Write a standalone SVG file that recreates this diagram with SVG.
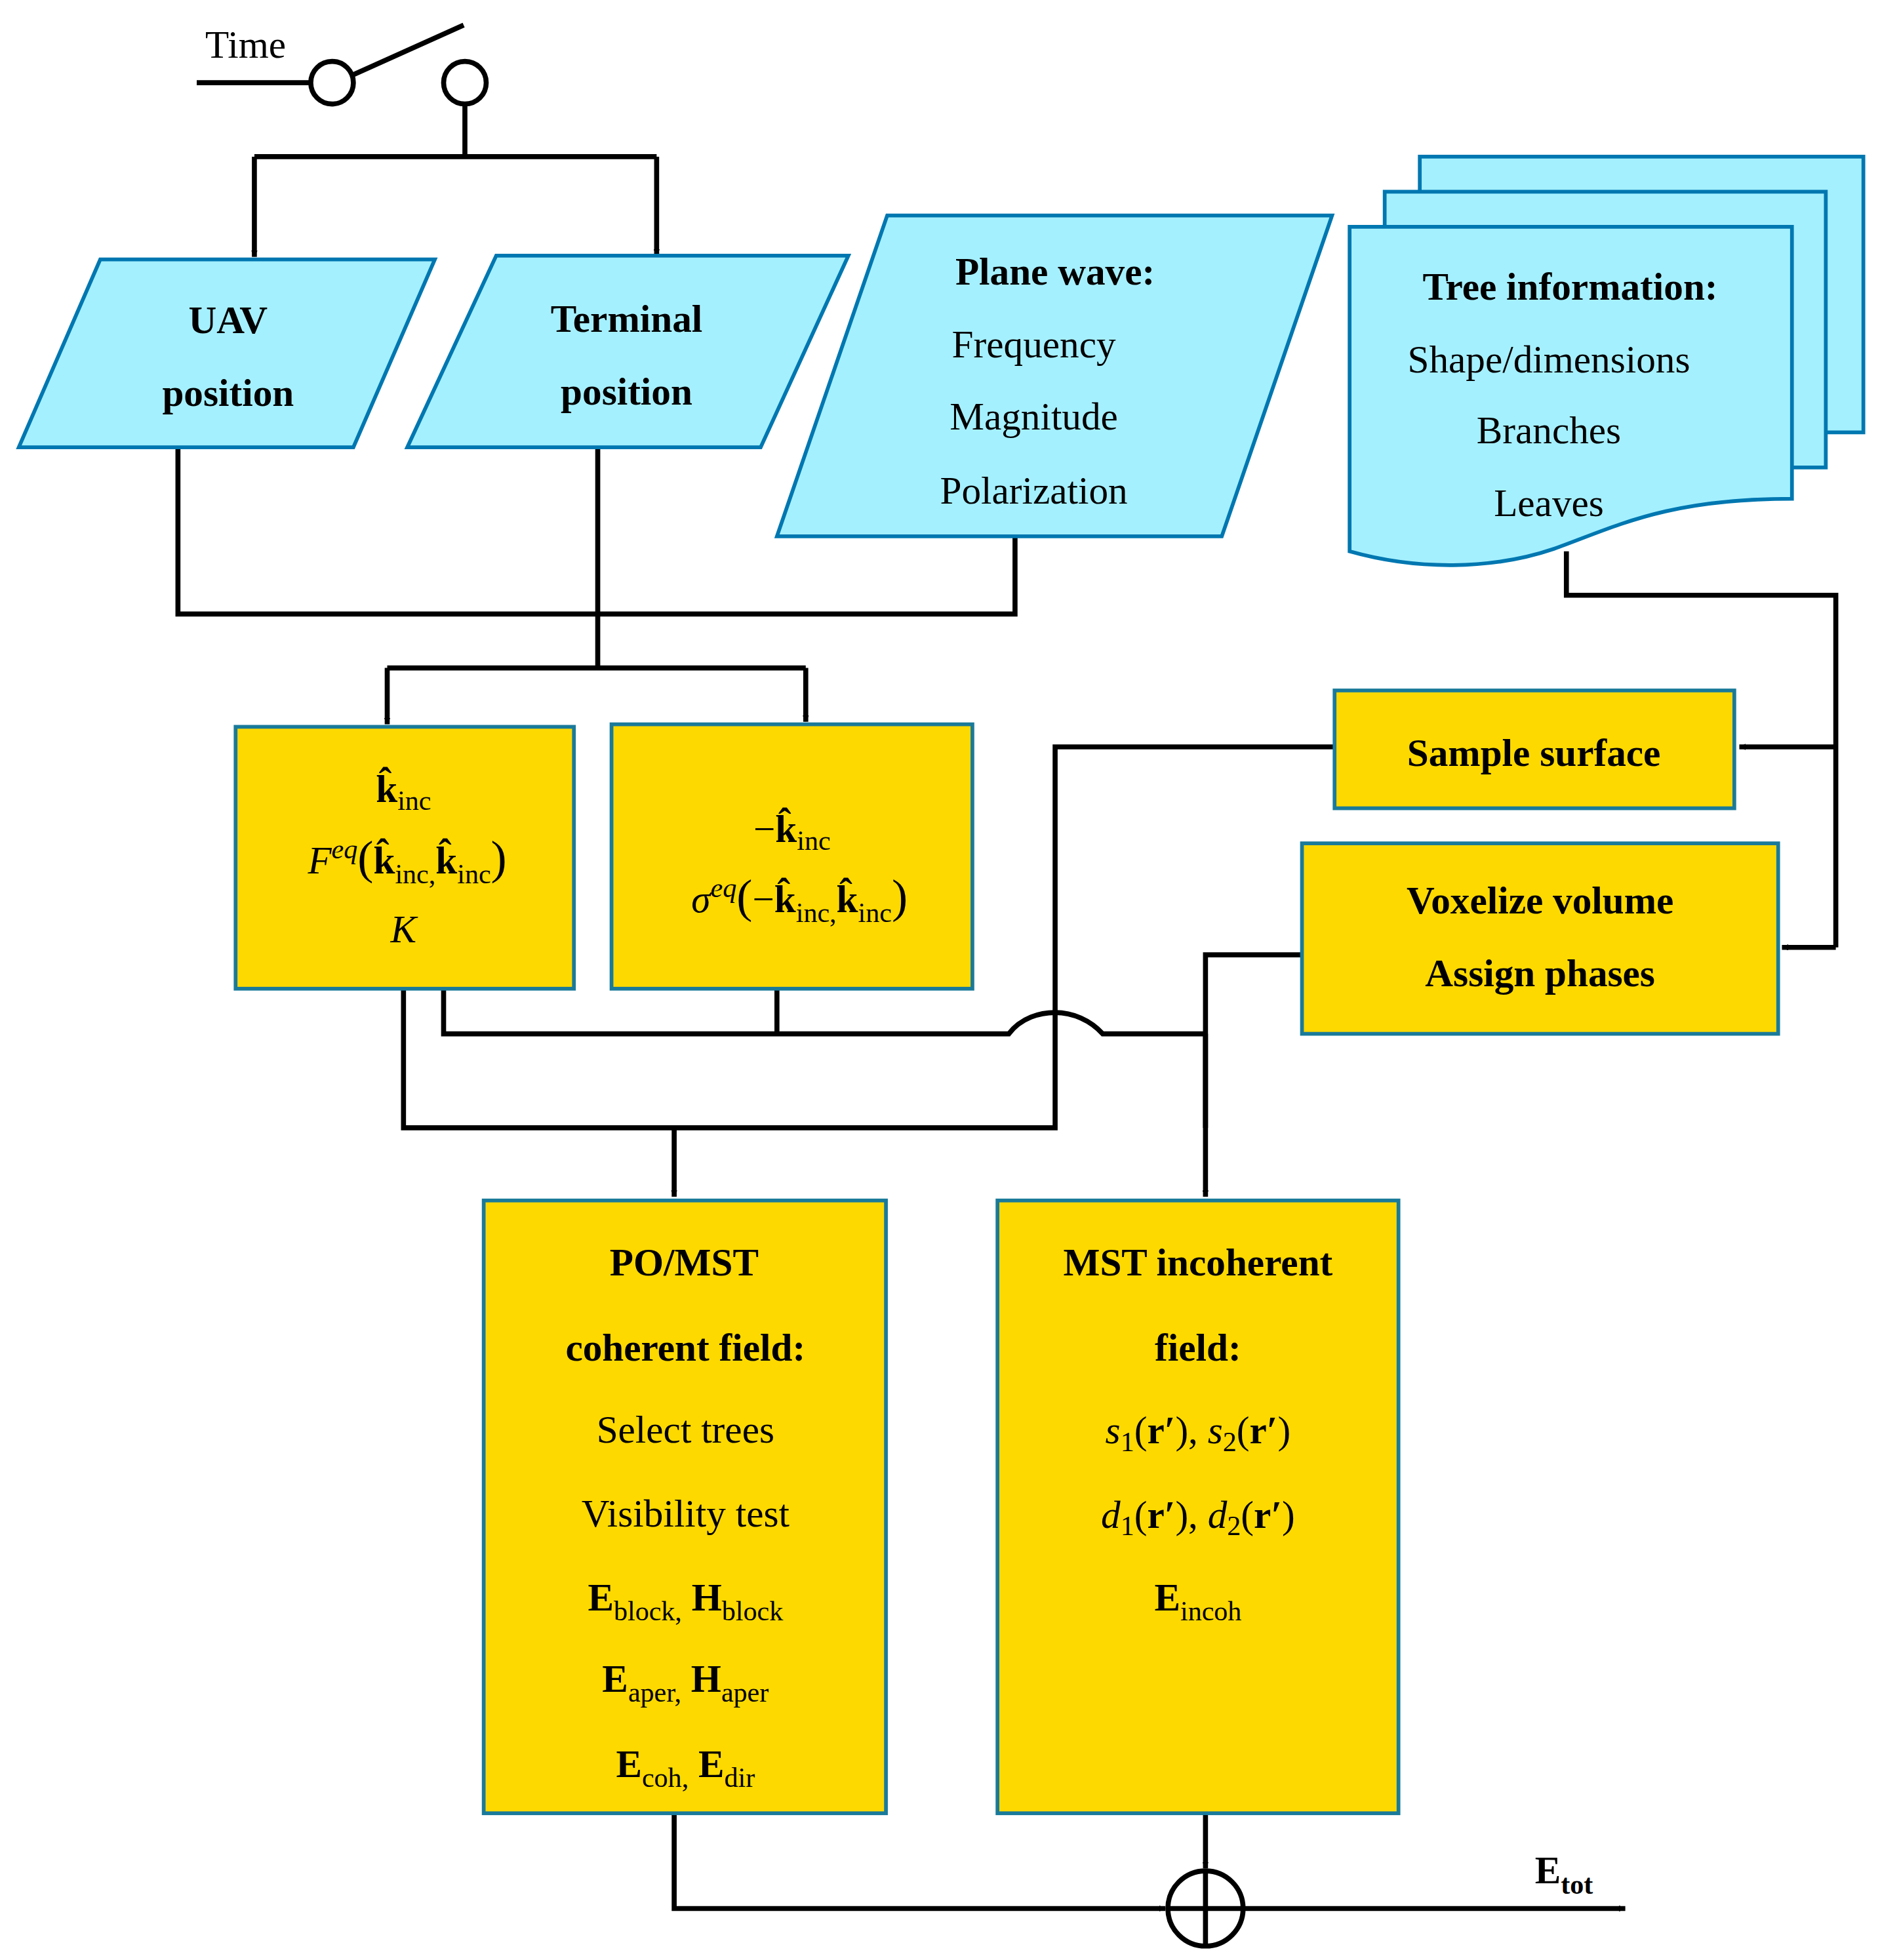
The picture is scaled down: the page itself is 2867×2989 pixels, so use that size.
<svg xmlns="http://www.w3.org/2000/svg" width="2867" height="2989" viewBox="0 0 2867 2989">
<defs>
<marker id="ah" viewBox="0 0 10 10" refX="10" refY="5" markerWidth="5" markerHeight="5" markerUnits="userSpaceOnUse" orient="auto"><path d="M0,0 L10,5 L0,10 z" fill="#000"/></marker>
<style>
.cy{fill:#A5F0FF;stroke:#0077B0;stroke-width:3}
.ye{fill:#FDD900;stroke:#1A7A9A;stroke-width:3}
.ln{fill:none;stroke:#000;stroke-width:4;stroke-linejoin:miter}
.ar{fill:none;stroke:#000;stroke-width:4;marker-end:url(#ah)}
text{font-family:"Liberation Serif","DejaVu Serif",serif;font-size:31px;fill:#000;text-anchor:middle}
.b{font-weight:bold}
.i{font-style:italic}
.s{font-size:22px}
</style>
</defs>
<rect width="2867" height="2989" fill="#fff"/>
<g transform="scale(1.911)">
<g id="connectors">
<path class="ln" d="M157,66 H248"/>
<circle cx="265" cy="66" r="17" fill="#fff" stroke="#000" stroke-width="4"/>
<circle cx="371" cy="66" r="17" fill="#fff" stroke="#000" stroke-width="4"/>
<path class="ln" d="M281,60 L370,20"/>
<path class="ln" d="M371,83 V125 M203,125 H524"/>
<path class="ar" d="M203,125 V205"/>
<path class="ar" d="M524,125 V204"/>
<path class="ln" d="M142,357 V490 H810 V428"/>
<path class="ln" d="M477,357 V533 M309,533 H643"/>
<path class="ar" d="M309,533 V578"/>
<path class="ar" d="M643,533 V576"/>
<path class="ln" d="M1250,440 V475 H1465 V756"/>
<path class="ar" d="M1465,596 H1388"/>
<path class="ar" d="M1465,756 H1422"/>
<path class="ln" d="M1065,596 H842 V900 H322 V789"/>
<path class="ar" d="M538,900 V955"/>
<path class="ln" d="M354,789 V825 H805 C815,812 830,808 842,808 C856,808 870,814 880,825 H962"/>
<path class="ln" d="M620,789 V825"/>
<path class="ln" d="M1039,762 H962 V900"/>
<path class="ar" d="M962,825 V955"/>
<path class="ar" d="M538,1447 V1523 H930"/>
<path class="ar" d="M962,1447 V1491"/>
<path class="ar" d="M993,1523 H1297"/>
<circle cx="962" cy="1523" r="30" fill="none" stroke="#000" stroke-width="4"/>
<path class="ln" d="M932,1523 H993 M962,1493 V1553"/>
<text x="1248" y="1503" class="b">E<tspan class="s" dy="8">tot</tspan></text>
<text x="196" y="46">Time</text>
</g>
<g id="uav"><path class="cy" d="M80,207 H347 L282,357 H15 Z"/><text x="182" y="266" class="b">UAV</text><text x="182" y="324" class="b">position</text></g>
<g id="terminal"><path class="cy" d="M396,204 H677 L607,357 H325 Z"/><text x="500" y="265" class="b">Terminal</text><text x="500" y="323" class="b">position</text></g>
<g id="planewave"><path class="cy" d="M708,172 H1063 L975,428 H620 Z"/><text x="842" y="227" class="b">Plane wave:</text><text x="825" y="285">Frequency</text><text x="825" y="343">Magnitude</text><text x="825" y="402">Polarization</text></g>
<g id="tree">
<path class="cy" d="M1133,125 H1487 V345 H1133 Z"/>
<path class="cy" d="M1105,153 H1457 V373 H1105 Z"/>
<path class="cy" d="M1077,181 H1430 V398 C1330,398 1290,420 1240,438 C1190,455 1130,455 1077,440 Z"/>
<text x="1253" y="239" class="b">Tree information:</text><text x="1236" y="297">Shape/dimensions</text><text x="1236" y="354">Branches</text><text x="1236" y="412">Leaves</text></g>
<g id="kinc"><rect class="ye" x="188" y="580" width="270" height="209"/>
<text x="322" y="640" class="b">k̂<tspan class="s" dy="6" font-weight="normal">inc</tspan></text>
<text x="325" y="697"><tspan class="i">F</tspan><tspan class="s i" dy="-12">eq</tspan><tspan dy="12" font-size="38">(</tspan><tspan class="b">k̂</tspan><tspan class="s" dy="8">inc,</tspan><tspan class="b" dy="-8">k̂</tspan><tspan class="s" dy="8">inc</tspan><tspan dy="-8" font-size="38">)</tspan></text>
<text x="322" y="752" class="i">K</text></g>
<g id="sigma"><rect class="ye" x="488" y="578" width="288" height="211"/>
<text x="632" y="672">−<tspan class="b">k̂</tspan><tspan class="s" dy="6">inc</tspan></text>
<text x="638" y="728"><tspan class="i">σ</tspan><tspan class="s i" dy="-12">eq</tspan><tspan dy="12" font-size="38">(</tspan>−<tspan class="b">k̂</tspan><tspan class="s" dy="8">inc,</tspan><tspan class="b" dy="-8">k̂</tspan><tspan class="s" dy="8">inc</tspan><tspan dy="-8" font-size="38">)</tspan></text></g>
<g id="sample"><rect class="ye" x="1065" y="551" width="319" height="94"/><text x="1224" y="611" class="b">Sample surface</text></g>
<g id="voxel"><rect class="ye" x="1039" y="673" width="380" height="152"/><text x="1229" y="729" class="b">Voxelize volume</text><text x="1229" y="787" class="b">Assign phases</text></g>
<g id="pomst"><rect class="ye" x="386" y="958" width="321" height="489"/>
<text x="546" y="1018" class="b">PO/MST</text><text x="547" y="1086" class="b">coherent field:</text>
<text x="547" y="1151">Select trees</text><text x="547" y="1218">Visibility test</text>
<text x="547" y="1285" class="b">E<tspan class="s" dy="8" font-weight="normal">block,</tspan><tspan dy="-8"> H</tspan><tspan class="s" dy="8" font-weight="normal">block</tspan></text>
<text x="547" y="1350" class="b">E<tspan class="s" dy="8" font-weight="normal">aper,</tspan><tspan dy="-8"> H</tspan><tspan class="s" dy="8" font-weight="normal">aper</tspan></text>
<text x="547" y="1418" class="b">E<tspan class="s" dy="8" font-weight="normal">coh,</tspan><tspan dy="-8"> E</tspan><tspan class="s" dy="8" font-weight="normal">dir</tspan></text></g>
<g id="mst"><rect class="ye" x="796" y="958" width="320" height="489"/>
<text x="956" y="1018" class="b">MST incoherent</text><text x="956" y="1086" class="b">field:</text>
<text x="956" y="1152"><tspan class="i">s</tspan><tspan class="s" dy="6">1</tspan><tspan dy="-6">(</tspan><tspan class="b">r′</tspan>),  <tspan class="i">s</tspan><tspan class="s" dy="6">2</tspan><tspan dy="-6">(</tspan><tspan class="b">r′</tspan>)</text>
<text x="956" y="1219"><tspan class="i">d</tspan><tspan class="s" dy="6">1</tspan><tspan dy="-6">(</tspan><tspan class="b">r′</tspan>),  <tspan class="i">d</tspan><tspan class="s" dy="6">2</tspan><tspan dy="-6">(</tspan><tspan class="b">r′</tspan>)</text>
<text x="956" y="1285" class="b">E<tspan class="s" dy="8" font-weight="normal">incoh</tspan></text></g>
</g>
</svg>
